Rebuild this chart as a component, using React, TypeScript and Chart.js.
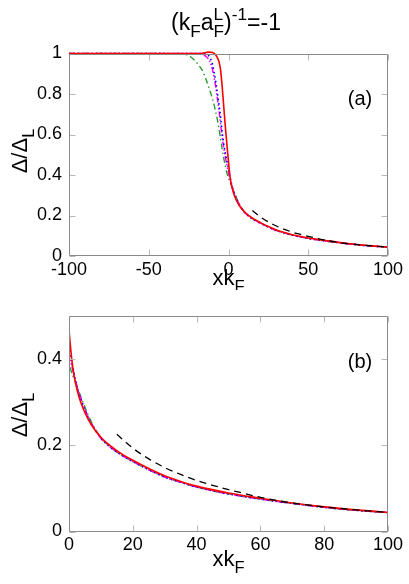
import React, { useEffect, useRef } from "react";
import { Chart, registerables } from "chart.js";

Chart.register(...registerables);

// ---- data ----
const X_GRID = [
  -100, -50, -30, -25, -22, -20, -18, -16, -14, -12,
  -10, -9, -8, -7, -6, -5, -4, -3, -2, -1,
  0, 0.5, 1, 1.5, 2, 3, 4, 5, 7, 10,
  13, 16, 20, 25, 30, 35, 40, 50, 60, 70,
  80, 90, 100,
];
const RED = [
  1, 1, 1, 1, 1, 1, 1.001, 1.002, 1.005, 1.007,
  1.005, 1.0, 0.993, 0.98, 0.96, 0.92, 0.84, 0.74, 0.64, 0.55,
  0.466, 0.425, 0.39, 0.365, 0.345, 0.315, 0.293, 0.275, 0.247, 0.218,
  0.198, 0.182, 0.165, 0.146, 0.129, 0.116, 0.105, 0.089, 0.077, 0.066,
  0.057, 0.05, 0.044,
];
const BLUE = [
  1, 1, 1, 1, 1, 1, 1.0, 1.0, 0.997, 0.985,
  0.945, 0.905, 0.86, 0.805, 0.75, 0.69, 0.615, 0.556, 0.51, 0.47,
  0.435, 0.41, 0.388, 0.369, 0.352, 0.323, 0.3, 0.281, 0.25, 0.216,
  0.195, 0.179, 0.162, 0.143, 0.126, 0.114, 0.103, 0.087, 0.075, 0.065,
  0.056, 0.049, 0.044,
];
const MAGENTA = [
  1, 1, 1, 1, 1, 1, 0.998, 0.994, 0.985, 0.965,
  0.92, 0.88, 0.835, 0.78, 0.72, 0.655, 0.59, 0.535, 0.49, 0.45,
  0.41, 0.395, 0.379, 0.364, 0.35, 0.324, 0.302, 0.283, 0.251, 0.216,
  0.195, 0.179, 0.162, 0.143, 0.126, 0.114, 0.103, 0.087, 0.075, 0.065,
  0.056, 0.049, 0.044,
];
const GREEN = [
  1, 1, 0.998, 0.99, 0.972, 0.955, 0.935, 0.91, 0.87, 0.825,
  0.775, 0.745, 0.71, 0.675, 0.63, 0.58, 0.53, 0.485, 0.445, 0.41,
  0.385, 0.375, 0.365, 0.355, 0.346, 0.326, 0.306, 0.288, 0.254, 0.217,
  0.196, 0.179, 0.162, 0.143, 0.126, 0.114, 0.103, 0.087, 0.075, 0.065,
  0.056, 0.049, 0.044,
];
const BLACK_X = [15, 20, 25, 30, 35, 40, 45, 50, 55, 60, 70, 80, 90, 100];
const BLACK_Y = [0.225, 0.193, 0.168, 0.148, 0.132, 0.118, 0.107, 0.097, 0.088, 0.079, 0.066, 0.057, 0.05, 0.044];

const PANEL_A_X = { min: -100, max: 100, step: 50 };
const PANEL_A_Y = { min: 0, max: 1, step: 0.2 };
const PANEL_B_X = { min: 0, max: 100, step: 20 };
const PANEL_B_Y = { min: 0, max: 0.5, step: 0.2 };

const FAMILY = '"Liberation Sans", Arial, Helvetica, sans-serif';

type Part = { t: string; k?: "n" | "sub" | "sup"; sup?: string };

const TITLE: Part[] = [
  { t: "(k" },
  { t: "F", k: "sub" },
  { t: "a" },
  { t: "F", k: "sub", sup: "L" },
  { t: ")" },
  { t: "-1", k: "sup" },
  { t: "=-1" },
];
const X_TITLE: Part[] = [{ t: "xk" }, { t: "F", k: "sub" }];
const Y_TITLE: Part[] = [{ t: "\u0394/\u0394" }, { t: "L", k: "sub" }];

function drawRich(ctx: CanvasRenderingContext2D, parts: Part[], x: number, y: number, size: number, align: "center" | "left") {
  const small = size * 0.75;
  const big = `${size}px ${FAMILY}`;
  const sm = `${small}px ${FAMILY}`;
  const widths = parts.map((p) => {
    if (!p.k || p.k === "n") {
      ctx.font = big;
      return ctx.measureText(p.t).width;
    }
    ctx.font = sm;
    let w = ctx.measureText(p.t).width;
    if (p.sup) w = Math.max(w, ctx.measureText(p.sup).width);
    return w;
  });
  const total = widths.reduce((a, b) => a + b, 0);
  let cx = align === "center" ? x - total / 2 : x;
  ctx.textAlign = "left";
  ctx.textBaseline = "alphabetic";
  ctx.fillStyle = "#000";
  parts.forEach((p, i) => {
    if (!p.k || p.k === "n") {
      ctx.font = big;
      ctx.fillText(p.t, cx, y);
    } else if (p.k === "sub") {
      ctx.font = sm;
      ctx.fillText(p.t, cx, y + size * 0.3);
      if (p.sup) ctx.fillText(p.sup, cx, y - size * 0.42);
    } else {
      ctx.font = sm;
      ctx.fillText(p.t, cx, y - size * 0.42);
    }
    cx += widths[i];
  });
}

function makeDatasets(clip: number) {
  const mk = (label: string, xs: number[], ys: number[], color: string, dash: number[], width: number) => ({
    label,
    data: xs.map((x, i) => ({ x, y: ys[i] })),
    borderColor: color,
    backgroundColor: color,
    borderWidth: width,
    borderDash: dash,
    pointRadius: 0,
    fill: false,
    cubicInterpolationMode: "monotone" as const,
    clip,
  });
  return [
    mk("black", BLACK_X, BLACK_Y, "#000000", [7, 5], 1.3),
    mk("red", X_GRID, RED, "#ff0000", [], 1.6),
    mk("blue", X_GRID, BLUE, "#0000ff", [1.5, 3], 1.6),
    mk("magenta", X_GRID, MAGENTA, "#ff00ff", [6, 2, 1.5, 2, 1.5, 2], 1.5),
    mk("green", X_GRID, GREEN, "#2e9a2e", [6, 3, 1.5, 3], 1.4),
  ];
}

type PanelCfg = {
  xr: { min: number; max: number; step: number };
  yr: { min: number; max: number; step: number };
  padTop: number;
  xHeight: number;
  label: string;
  labelY: number;
  xTitleY: number;
  yTitleCenter: number;
  title: boolean;
  clip: number;
};

function makeFramePlugin(cfg: PanelCfg) {
  return {
    id: "frame" + cfg.label,
    afterDatasetsDraw(chart: any) {
      const { ctx, chartArea: a, scales } = chart;
      const L = Math.round(a.left) + 0.5;
      const R = Math.round(a.right) - 0.5;
      const T = Math.round(a.top) + 0.5;
      const B = Math.round(a.bottom) - 0.5;
      ctx.save();
      ctx.strokeStyle = "#b8b8b8";
      ctx.lineWidth = 1;
      ctx.beginPath();
      scales.x.ticks.forEach((t: any) => {
        const px = Math.round(scales.x.getPixelForValue(t.value)) + 0.5;
        ctx.moveTo(px, B);
        ctx.lineTo(px, B - 6);
        ctx.moveTo(px, T);
        ctx.lineTo(px, T + 6);
      });
      scales.y.ticks.forEach((t: any) => {
        const py = Math.round(scales.y.getPixelForValue(t.value)) + 0.5;
        ctx.moveTo(L, py);
        ctx.lineTo(L + 6, py);
        ctx.moveTo(R, py);
        ctx.lineTo(R - 6, py);
      });
      ctx.stroke();
      ctx.strokeStyle = "#8a8a8a";
      ctx.beginPath();
      ctx.rect(L, T, R - L, B - T);
      ctx.stroke();
      ctx.font = `20px ${FAMILY}`;
      ctx.fillStyle = "#000";
      ctx.textAlign = "center";
      ctx.textBaseline = "alphabetic";
      ctx.fillText(cfg.label, 360, cfg.labelY);
      drawRich(ctx, X_TITLE, (a.left + a.right) / 2, cfg.xTitleY, 22, "center");
      ctx.save();
      ctx.translate(27, cfg.yTitleCenter);
      ctx.rotate(-Math.PI / 2);
      drawRich(ctx, Y_TITLE, 0, 0, 22, "center");
      ctx.restore();
      if (cfg.title) drawRich(ctx, TITLE, 226, 30, 23, "center");
      ctx.restore();
    },
  };
}

function Panel({ cfg, width, height }: { cfg: PanelCfg; width: number; height: number }) {
  const ref = useRef<HTMLCanvasElement | null>(null);
  useEffect(() => {
    if (!ref.current) return;
    const step = cfg.yr.step;
    const chart = new Chart(ref.current, {
      type: "line",
      data: { datasets: makeDatasets(cfg.clip) as any },
      options: {
        responsive: false,
        animation: false,
        devicePixelRatio: 1,
        layout: { padding: { top: cfg.padTop, right: 21, bottom: 0, left: 0 } },
        plugins: { legend: { display: false }, tooltip: { enabled: false }, title: { display: false } },
        scales: {
          x: {
            type: "linear",
            min: cfg.xr.min,
            max: cfg.xr.max,
            grid: { display: false, drawTicks: false },
            border: { display: false },
            ticks: {
              stepSize: cfg.xr.step,
              autoSkip: false,
              maxRotation: 0,
              padding: 3,
              color: "#000",
              font: { size: 18, family: FAMILY },
            },
            afterFit: (s: any) => {
              s.height = cfg.xHeight;
            },
          },
          y: {
            type: "linear",
            min: cfg.yr.min,
            max: cfg.yr.max,
            grid: { display: false, drawTicks: false },
            border: { display: false },
            afterBuildTicks: (s: any) => {
              s.ticks = s.ticks.filter((t: any) => {
                const r = t.value / step;
                return Math.abs(r - Math.round(r)) < 1e-6;
              });
            },
            ticks: {
              stepSize: step,
              autoSkip: false,
              padding: 7,
              color: "#000",
              font: { size: 18, family: FAMILY },
              callback: (v: any) => String(Math.round(Number(v) * 10) / 10),
            },
            afterFit: (s: any) => {
              s.width = 69;
            },
          },
        },
      },
      plugins: [makeFramePlugin(cfg)],
    } as any);
    return () => chart.destroy();
  }, [cfg]);
  return <canvas ref={ref} width={width} height={height} style={{ display: "block", width, height }} />;
}

const CFG_A: PanelCfg = {
  xr: PANEL_A_X,
  yr: PANEL_A_Y,
  padTop: 53.5,
  xHeight: 34,
  label: "(a)",
  labelY: 105,
  xTitleY: 285,
  yTitleCenter: 151,
  title: true,
  clip: 4,
};
const CFG_B: PanelCfg = {
  xr: PANEL_B_X,
  yr: PANEL_B_Y,
  padTop: 25.5,
  xHeight: 52.5,
  label: "(b)",
  labelY: 78,
  xTitleY: 276,
  yTitleCenter: 125,
  title: false,
  clip: 0,
};

export default function App() {
  return (
    <div style={{ position: "fixed", left: 0, top: 0, width: 409, height: 584, background: "#fff" }}>
      <Panel cfg={CFG_A} width={409} height={290} />
      <Panel cfg={CFG_B} width={409} height={294} />
    </div>
  );
}
